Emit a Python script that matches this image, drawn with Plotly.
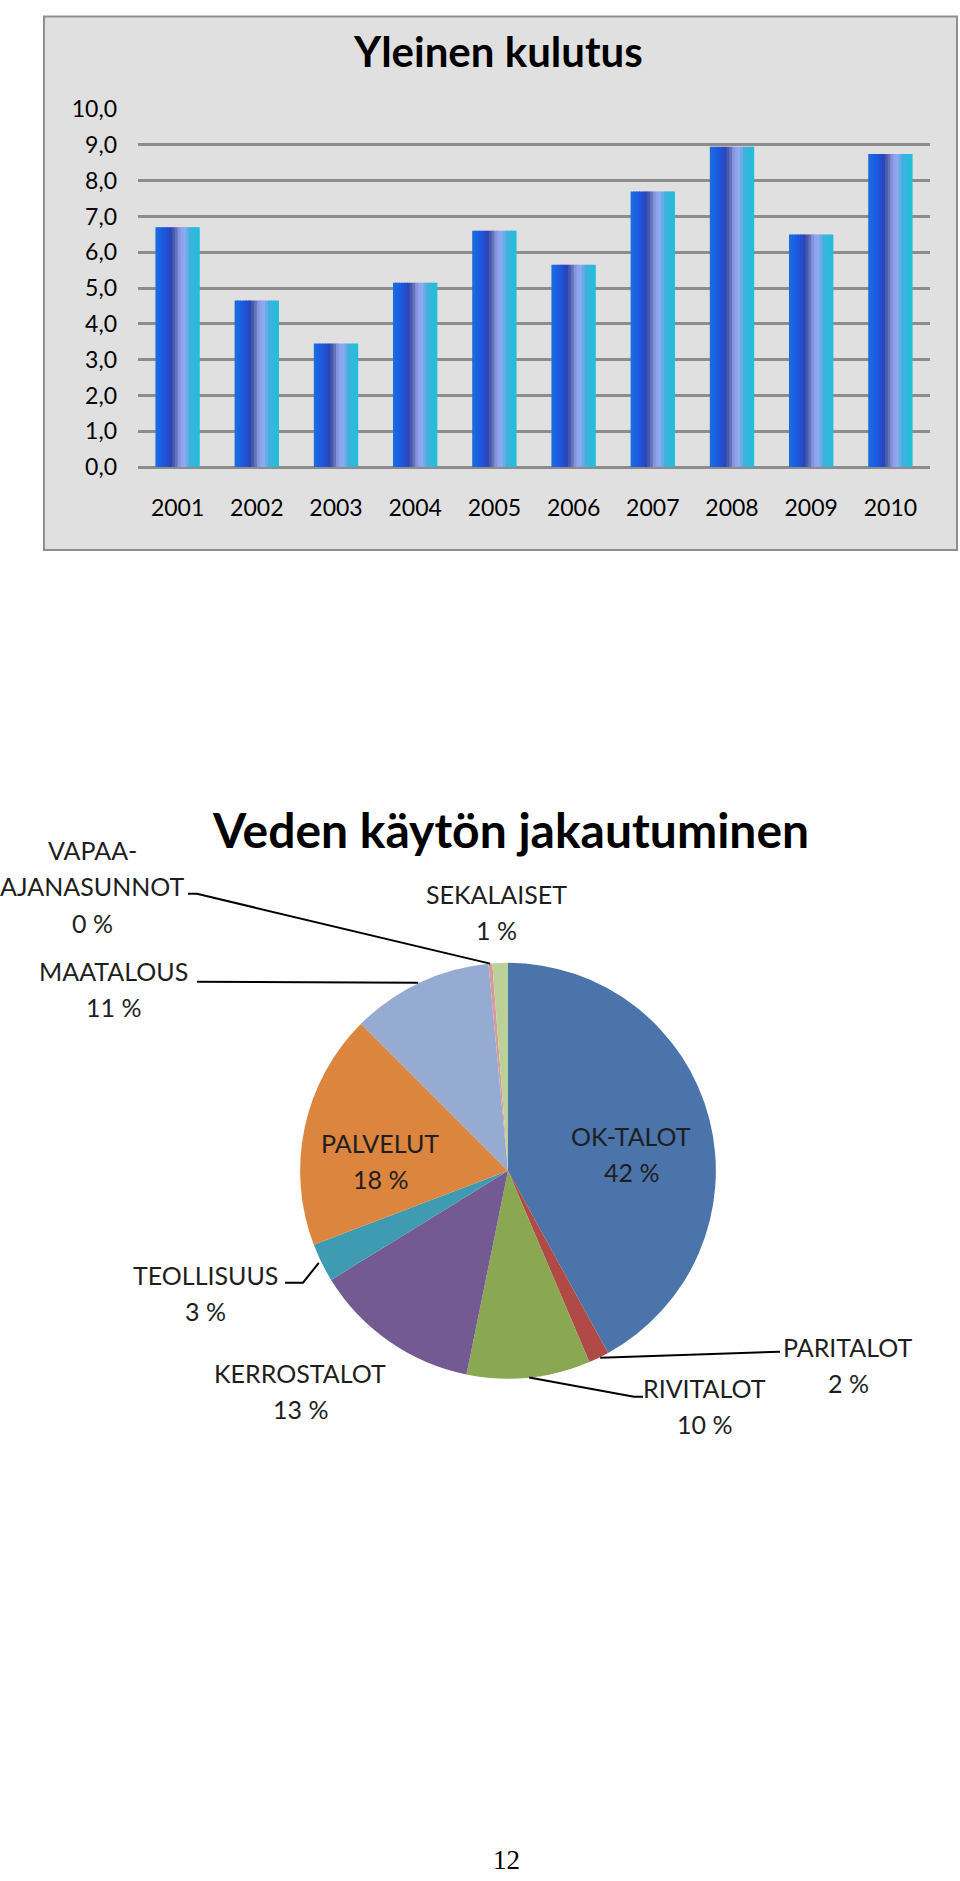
import math
import plotly.graph_objects as go

# ---------------- data ----------------
years = ["2001", "2002", "2003", "2004", "2005", "2006", "2007", "2008", "2009", "2010"]
consumption = [6.7, 4.65, 3.45, 5.15, 6.6, 5.65, 7.7, 8.95, 6.5, 8.75]
y_tick_values = [0, 1, 2, 3, 4, 5, 6, 7, 8, 9, 10]

pie_labels = ["OK-TALOT", "PARITALOT", "RIVITALOT", "KERROSTALOT", "TEOLLISUUS",
              "PALVELUT", "MAATALOUS", "VAPAA-AJANASUNNOT", "SEKALAISET"]
pie_values = [42.0, 1.6, 9.6, 13.0, 3.0, 18.3, 11.0, 0.3, 1.2]

bar_title = "Yleinen kulutus"
pie_title = "Veden käytön jakautuminen"
page_number = "12"

# ---------------- layout helpers ----------------
W, H = 960, 1881
FONT = "Lato"

# vertical placement correction (the photographed page comes out slightly
# shifted/compressed vertically; positions below are the wanted on-screen ones)
V_OFF, V_SCALE = 16.8, 0.9855


def vy(y):
    return 1 + (y - V_OFF) / V_SCALE


def px(x):
    return x / W


def py(y):
    return 1 - y / H


pie_colors = ["#4A74AA", "#B04A46", "#8AA752", "#735A92", "#3F9BB1",
              "#DC853F", "#95ABD2", "#D89A98", "#BCD09A"]

grad_stops = [(0.0, (26, 110, 224)), (0.2, (28, 88, 224)), (0.35, (44, 68, 184)),
              (0.45, (90, 106, 168)), (0.55, (142, 156, 236)), (0.65, (144, 170, 238)),
              (0.78, (64, 176, 224)), (1.0, (30, 192, 216))]


def grad_color(t):
    for (t0, c0), (t1, c1) in zip(grad_stops[:-1], grad_stops[1:]):
        if t0 <= t <= t1:
            f = (t - t0) / (t1 - t0) if t1 > t0 else 0
            c = [round(a + (b - a) * f) for a, b in zip(c0, c1)]
            return "rgb(%d,%d,%d)" % tuple(c)
    return "rgb(%d,%d,%d)" % grad_stops[-1][1]


fig = go.Figure()

# ---------- bar chart (thin strips give the horizontal gradient) ----------
bar_w = 0.56
n_strips = 16
step = bar_w / n_strips
for i in range(n_strips):
    t = (i + 0.5) / n_strips
    w = step * (1.35 if i < n_strips - 1 else 1.0)
    fig.add_trace(go.Bar(
        x=years, y=consumption, width=[w] * len(years),
        offset=[-bar_w / 2 + i * step] * len(years),
        marker=dict(color=grad_color(t), line=dict(width=0)),
        showlegend=False, hoverinfo="skip", xaxis="x", yaxis="y"))

# ---------- pie chart ----------
PCX, PCY, PR = 508, vy(1172), 211
fig.add_trace(go.Pie(
    labels=pie_labels, values=pie_values, sort=False, direction="clockwise",
    rotation=0, marker=dict(colors=pie_colors, line=dict(width=0)),
    textinfo="none", hoverinfo="skip", showlegend=False,
    domain=dict(x=[px(PCX - PR), px(PCX + PR)], y=[py(PCY + PR), py(PCY - PR)])))

shapes = [
    dict(type="rect", xref="paper", yref="paper", x0=px(44), x1=px(957),
         y0=py(vy(551)), y1=py(max(vy(4), 1.5)),
         fillcolor="#E0E0E0", line=dict(color="#8F8F8F", width=2), layer="below"),
]

annotations = [
    dict(text=bar_title, x=px(498), y=py(vy(52)), xref="paper", yref="paper", showarrow=False,
         xanchor="center", yanchor="middle", font=dict(family=FONT, size=42, color="#000", weight=700)),
    dict(text=pie_title, x=px(510), y=py(vy(831)), xref="paper", yref="paper", showarrow=False,
         xanchor="center", yanchor="middle", font=dict(family=FONT, size=48, color="#000", weight=700)),
    dict(text=page_number, x=px(507), y=py(1873), xref="paper", yref="paper", showarrow=False,
         xanchor="center", yanchor="middle", font=dict(family="Liberation Serif", size=27, color="#000")),
]

label_layout = {
    "OK-TALOT": ((631, 1137), []),
    "PALVELUT": ((380, 1144), []),
    "PARITALOT": ((848, 1348), [(780, 1353)]),
    "RIVITALOT": ((704, 1389), [(634, 1398), (643, 1398)]),
    "KERROSTALOT": ((300, 1374), []),
    "TEOLLISUUS": ((205, 1276), [(303, 1284), (285, 1284)]),
    "MAATALOUS": ((113, 972), [(197, 983)]),
    "VAPAA-AJANASUNNOT": ((92, 851), [(197, 895), (188, 895)]),
    "SEKALAISET": ((496, 895), []),
}
LINE_GAP = 36.5

total = sum(pie_values)
acc = 0.0
for name, val in zip(pie_labels, pie_values):
    mid = (acc + val / 2) / total * 2 * math.pi
    acc += val
    ex, ey = PCX + PR * math.sin(mid), PCY - PR * math.cos(mid)
    (lx, ly), path_pts = label_layout[name]
    name_lines = [name[:name.index("-") + 1], name[name.index("-") + 1:]] if len(name) > 12 else [name]
    lines = name_lines + ["%d %%" % round(val / total * 100)]
    for k, ln in enumerate(lines):
        annotations.append(dict(
            text=ln, x=px(lx), y=py(vy(ly + k * LINE_GAP)), xref="paper", yref="paper",
            showarrow=False, xanchor="center", yanchor="middle",
            font=dict(family=FONT, size=25, color="#1E1E1E")))
    if path_pts:
        d = "M %f,%f" % (px(ex), py(ey)) + "".join(
            " L %f,%f" % (px(a), py(vy(b))) for a, b in path_pts)
        shapes.append(dict(type="path", xref="paper", yref="paper", path=d,
                           line=dict(color="#000", width=2)))

fig.update_layout(
    width=W, height=H, margin=dict(l=0, r=0, t=0, b=0),
    paper_bgcolor="white", plot_bgcolor="white",
    separators=", ",
    barmode="overlay", bargap=0.44,
    xaxis=dict(domain=[px(138), px(930)], type="category", showgrid=False, showline=False,
               zeroline=False, ticks="", ticklabelstandoff=25,
               tickfont=dict(family=FONT, size=23, color="#000"), fixedrange=True),
    yaxis=dict(domain=[py(vy(468)), py(vy(110))], range=[0, 10], tickvals=y_tick_values,
               tickformat=".1f", showgrid=True, gridcolor="#8C8C8C", gridwidth=3,
               zeroline=True, zerolinecolor="#8C8C8C", zerolinewidth=3, showline=False,
               ticks="", ticklabelstandoff=20,
               tickfont=dict(family=FONT, size=23, color="#000"), fixedrange=True),
    shapes=shapes, annotations=annotations,
)

fig.write_html("out.html")
